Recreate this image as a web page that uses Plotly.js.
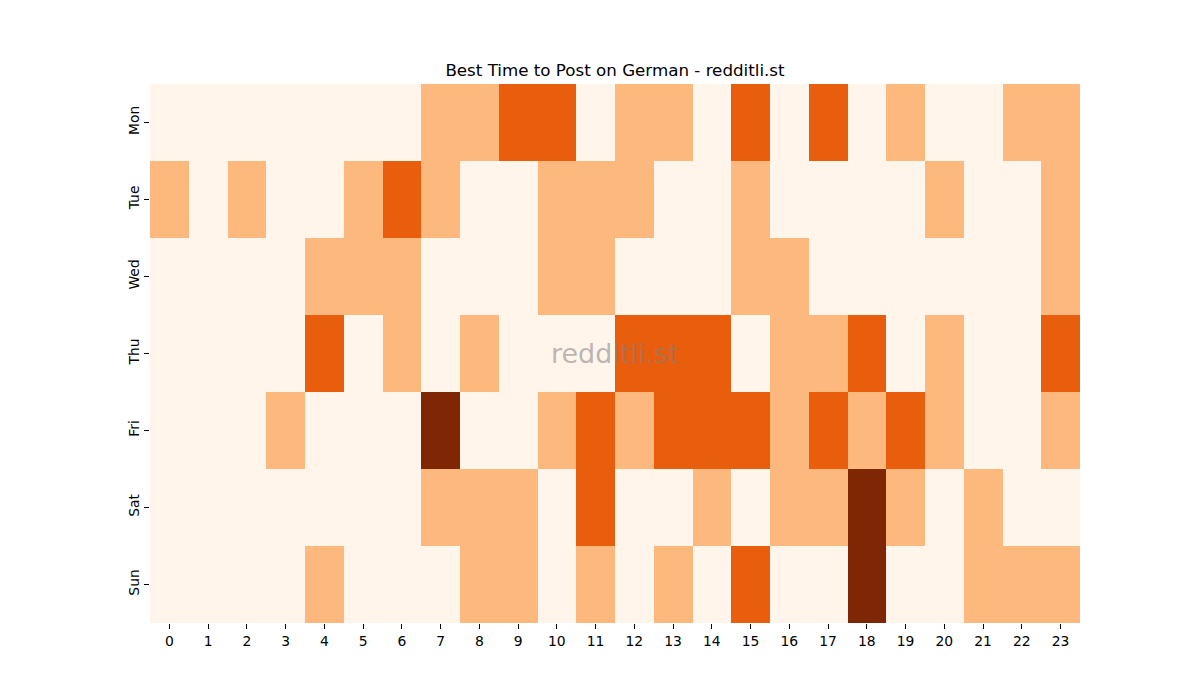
<!DOCTYPE html>
<html>
<head>
<meta charset="utf-8">
<script src="https://cdn.plot.ly/plotly-3.0.1.min.js"></script>
<style>body{margin:0;background:#fff;} #chart{width:1200px;height:700px;}</style>
</head>
<body>
<div id="chart"></div>
<script>
const hours = ["0","1","2","3","4","5","6","7","8","9","10","11","12","13","14","15","16","17","18","19","20","21","22","23"];
const days = ["Mon","Tue","Wed","Thu","Fri","Sat","Sun"];
// activity level per hour (0 = low ... 3 = high)
const mon = [0,0,0,0,0,0,0,1,1,2,2,0,1,1,0,2,0,2,0,1,0,0,1,1];
const tue = [1,0,1,0,0,1,2,1,0,0,1,1,1,0,0,1,0,0,0,0,1,0,0,1];
const wed = [0,0,0,0,1,1,1,0,0,0,1,1,0,0,0,1,1,0,0,0,0,0,0,1];
const thu = [0,0,0,0,2,0,1,0,1,0,0,0,2,2,2,0,1,1,2,0,1,0,0,2];
const fri = [0,0,0,1,0,0,0,3,0,0,1,2,1,2,2,2,1,2,1,2,1,0,0,1];
const sat = [0,0,0,0,0,0,0,1,1,1,0,2,0,0,1,0,1,1,3,1,0,1,0,0];
const sun = [0,0,0,0,1,0,0,0,1,1,0,1,0,1,0,2,0,0,3,0,0,1,1,1];
const zData = [mon, tue, wed, thu, fri, sat, sun];

const font = "DejaVu Sans, sans-serif";
const trace = {
  type: "heatmap",
  x: hours,
  y: days,
  z: zData,
  zmin: 0, zmax: 3,
  colorscale: [
    [0, "#fff5eb"], [0.125, "#fff5eb"],
    [0.125, "#fdb97d"], [0.5, "#fdb97d"],
    [0.5, "#e95e0d"], [0.875, "#e95e0d"],
    [0.875, "#7f2704"], [1, "#7f2704"]
  ],
  showscale: false,
  xgap: 0, ygap: 0,
  hoverinfo: "x+y+z"
};

const layout = {
  width: 1200, height: 700,
  margin: {l: 150, r: 120, t: 84, b: 77},
  paper_bgcolor: "#fff",
  plot_bgcolor: "#fff",
  font: {family: font, color: "#000"},
  title: {text: "Best Time to Post on German - redditli.st", font: {family: font, size: 16.7, color: "#000"},
          x: 0.5, xanchor: "center", y: 0.9, yanchor: "middle", xref: "paper"},
  xaxis: {type: "category", showgrid: false, zeroline: false, showline: false,
          ticks: "outside", ticklen: 4.9, tickwidth: 1, tickcolor: "#000",
          tickfont: {family: font, size: 13.9, color: "#000"}},
  yaxis: {type: "category", autorange: "reversed", showgrid: false, zeroline: false, showline: false,
          ticks: "outside", ticklen: 4.9, tickwidth: 1, tickcolor: "#000", tickangle: -90,
          tickfont: {family: font, size: 13.9, color: "#000"}},
  annotations: [{
    text: "redditli.st", xref: "paper", yref: "paper", x: 0.5, y: 0.5,
    xanchor: "center", yanchor: "middle", showarrow: false,
    font: {family: font, size: 27, color: "rgba(128,128,128,0.55)"}
  }]
};

Plotly.newPlot("chart", [trace], layout, {displayModeBar: false, staticPlot: true});
</script>
</body>
</html>
